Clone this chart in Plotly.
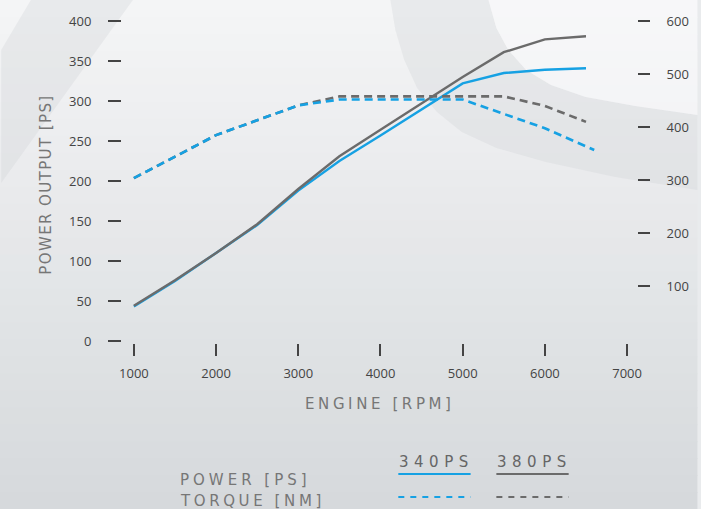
import plotly.graph_objects as go

# ---------------- data ----------------
rpm = [1000, 1500, 2000, 2500, 3000, 3500, 4000, 4500, 5000, 5500, 6000, 6500]
power_340 = [43, 75, 110, 145, 188, 225, 257, 290, 322, 335, 339, 341]
power_380 = [44, 76, 110, 146, 190, 231, 264, 297, 330, 361, 377, 381]

rpm_torque_340 = [1000, 1500, 2000, 2500, 3000, 3500, 4000, 4500, 5000, 5500, 6000, 6600]
torque_340 = [304, 344, 385, 413, 441, 452, 452, 452, 452, 425, 398, 357]
rpm_torque_380 = [1000, 1500, 2000, 2500, 3000, 3500, 4000, 4500, 5000, 5500, 6000, 6500]
torque_380 = [304, 344, 385, 413, 441, 458, 458, 458, 458, 458, 440, 410]

x_ticks = [1000, 2000, 3000, 4000, 5000, 6000, 7000]
power_ticks = [0, 50, 100, 150, 200, 250, 300, 350, 400]
torque_ticks = [100, 200, 300, 400, 500, 600]

series_names = ["340PS", "380PS"]
legend_rows = ["POWER [PS]", "TORQUE [NM]"]
x_title = "ENGINE [RPM]"
y_title = "POWER OUTPUT [PS]"

BLUE = "#16a1e3"
GRAY = "#6b6b6b"

W, H = 701, 509
L, R, T, B = 122, 59, 15, 166
PW = W - L - R
PH = H - T - B


def px(x):
    return (x - L) / PW


def py(y):
    return (H - B - y) / PH


def spaced(text, sp):
    return '<span style="letter-spacing:%spx">%s</span>' % (sp, text)


fig = go.Figure()

fig.add_trace(go.Scatter(x=rpm_torque_380, y=torque_380, yaxis="y2", mode="lines",
                         line=dict(color=GRAY, width=2.6, dash="8px,5px"), showlegend=False))
fig.add_trace(go.Scatter(x=rpm_torque_340, y=torque_340, yaxis="y2", mode="lines",
                         line=dict(color=BLUE, width=2.6, dash="8px,5px"), showlegend=False))
fig.add_trace(go.Scatter(x=rpm, y=power_340, mode="lines",
                         line=dict(color=BLUE, width=2.4), showlegend=False))
fig.add_trace(go.Scatter(x=rpm, y=power_380, mode="lines",
                         line=dict(color=GRAY, width=2.4), showlegend=False))

shapes = []
# background vertical gradient built from bands
top = (0xf4, 0xf5, 0xf6)
bot = (0xd6, 0xd9, 0xdc)
n = 30
for i in range(n):
    t = i / (n - 1)
    c = tuple(round(top[k] + (bot[k] - top[k]) * t) for k in range(3))
    y0 = i * H / n
    y1 = (i + 1) * H / n + 1
    shapes.append(dict(type="rect", xref="paper", yref="paper",
                       x0=px(-2), x1=px(W + 2), y0=py(y1), y1=py(y0),
                       fillcolor="rgb(%d,%d,%d)" % c, line=dict(width=0), layer="below"))


def path_from(points):
    s = "M %f,%f " % (px(points[0][0]), py(points[0][1]))
    for (a, b) in points[1:]:
        s += "L %f,%f " % (px(a), py(b))
    return s + "Z"


# top-left diagonal band
shapes.append(dict(type="path", xref="paper", yref="paper",
                   path=path_from([(30, 0), (133, 0), (0, 183), (0, 50)]),
                   fillcolor="rgba(205,208,212,0.3)", line=dict(width=0), layer="below"))
# right swoosh band
outer = [(393, 0), (398, 30), (407, 60), (420, 88), (440, 112), (465, 132), (500, 148),
         (550, 162), (620, 177), (703, 190)]
inner = [(703, 115), (640, 106), (590, 97), (555, 85), (530, 70), (512, 50), (500, 28), (492, 0)]
shapes.append(dict(type="path", xref="paper", yref="paper",
                   path=path_from(outer + inner),
                   fillcolor="rgba(205,209,213,0.3)", line=dict(width=0), layer="below"))
# lighter inner region top-right
shapes.append(dict(type="path", xref="paper", yref="paper",
                   path=path_from(inner[::-1] + [(703, 0)]),
                   fillcolor="rgba(250,250,251,0.5)", line=dict(width=0), layer="below"))

# legend swatches
shapes.append(dict(type="line", xref="paper", yref="paper", x0=px(401), x1=px(474),
                   y0=py(474), y1=py(474), line=dict(color=BLUE, width=2)))
shapes.append(dict(type="line", xref="paper", yref="paper", x0=px(500), x1=px(573),
                   y0=py(474), y1=py(474), line=dict(color=GRAY, width=2)))
shapes.append(dict(type="line", xref="paper", yref="paper", x0=px(401), x1=px(474),
                   y0=py(497), y1=py(497), line=dict(color=BLUE, width=2, dash="6px,6px")))
shapes.append(dict(type="line", xref="paper", yref="paper", x0=px(500), x1=px(573),
                   y0=py(497), y1=py(497), line=dict(color=GRAY, width=2, dash="6px,6px")))

title_font = dict(family="DejaVu Sans", size=15, color="#767676")
leg_font = dict(family="DejaVu Sans", size=15, color="#666")
annotations = [
    dict(text=spaced(y_title, 1.4), xref="paper", yref="paper", x=px(45), y=py(185), textangle=-90,
         showarrow=False, font=title_font, xanchor="center", yanchor="middle"),
    dict(text=spaced(x_title, 3.6), xref="paper", yref="paper", x=px(383), y=py(404),
         showarrow=False, font=title_font, xanchor="center", yanchor="middle"),
    dict(text=spaced(legend_rows[0], 4), xref="paper", yref="paper", x=px(179), y=py(480),
         showarrow=False, font=title_font, xanchor="left", yanchor="middle"),
    dict(text=spaced(legend_rows[1], 3.6), xref="paper", yref="paper", x=px(179), y=py(501),
         showarrow=False, font=title_font, xanchor="left", yanchor="middle"),
    dict(text=spaced(series_names[0], 5.5), xref="paper", yref="paper", x=px(440), y=py(462),
         showarrow=False, font=leg_font, xanchor="center", yanchor="middle"),
    dict(text=spaced(series_names[1], 5.5), xref="paper", yref="paper", x=px(539), y=py(462),
         showarrow=False, font=leg_font, xanchor="center", yanchor="middle"),
]

tick_font = dict(family="Open Sans", size=13, color="#444")
x0 = 1000 - (134 - L) / 83.0 * 1000
x1 = 7000 + (W - R - 632) / 83.0 * 1000
fig.update_layout(
    width=W, height=H,
    margin=dict(l=L, r=R, t=T, b=B),
    paper_bgcolor="#e9ebed", plot_bgcolor="rgba(0,0,0,0)",
    showlegend=False,
    shapes=shapes, annotations=annotations,
    xaxis=dict(range=[x0, x1], tickvals=x_ticks, showgrid=False, zeroline=False,
               showline=False, ticks="outside", ticklen=12, tickwidth=1.5, tickcolor="#444",
               tickfont=tick_font, ticklabelstandoff=6),
    yaxis=dict(range=[-2.5, 407.5], tickvals=power_ticks, showgrid=False, zeroline=False,
               showline=False, ticks="outside", ticklen=13, tickwidth=1.5, tickcolor="#444",
               tickfont=tick_font, ticklabelstandoff=14),
    yaxis2=dict(range=[-3.5 / 0.5308, 600 + 6 / 0.5308], tickvals=torque_ticks, overlaying="y",
                side="right", showgrid=False, zeroline=False, showline=False,
                ticks="outside", ticklen=12, tickwidth=1.5, tickcolor="#444",
                tickfont=tick_font, ticklabelstandoff=14),
)

fig.write_html("out.html", config={"displayModeBar": False},
               post_script=("document.body.style.margin='0';"
                            "document.body.style.overflow='hidden';"
                            "document.body.style.background='#d8dbde';"
                            "document.documentElement.style.overflow='hidden';"
                            "document.documentElement.style.scrollbarWidth='none';"
                            "document.documentElement.style.background='#d8dbde';"))
